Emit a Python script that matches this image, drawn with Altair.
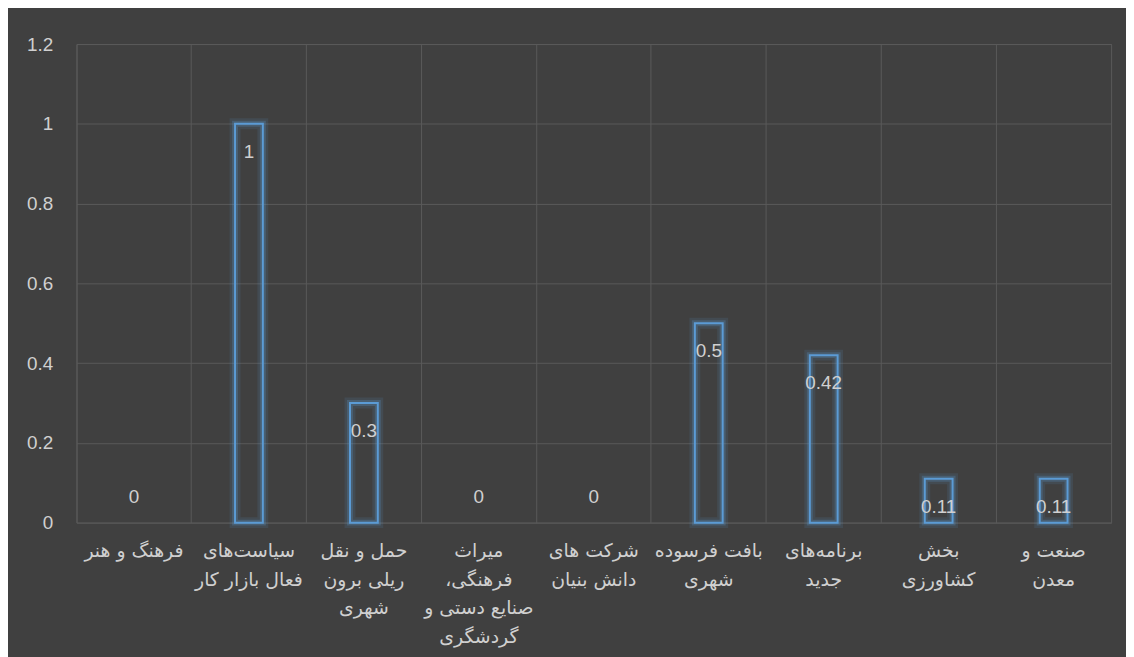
import altair as alt
import pandas as pd

categories = [
    "فرهنگ و هنر",
    "سیاست‌های|فعال بازار کار",
    "حمل و نقل|ریلی برون|شهری",
    "میراث|،فرهنگی|صنایع دستی و|گردشگری",
    "شرکت های|دانش بنیان",
    "بافت فرسوده|شهری",
    "برنامه‌های|جدید",
    "بخش|کشاورزی",
    "صنعت و|معدن",
]
values = [0, 1, 0.3, 0, 0, 0.5, 0.42, 0.11, 0.11]
y_ticks = [0, 0.2, 0.4, 0.6, 0.8, 1.0, 1.2]

df = pd.DataFrame({"cat": categories, "value": values})

BG = "#404040"
GRID = "#5a5a5a"
TXT = "#d0d0d0"
BLUE = "#5B9BD5"

x = alt.X(
    "cat:N",
    sort=categories,
    scale=alt.Scale(paddingInner=0, paddingOuter=0),
    axis=alt.Axis(
        title=None,
        labelAngle=0,
        labelExpr="split(datum.label, '|')",
        labelFont="DejaVu Sans",
        labelFontSize=19,
        labelLineHeight=29,
        labelColor=TXT,
        labelPadding=19,
        labelBaseline="top",
        ticks=False,
        domain=False,
        grid=True,
        bandPosition=0,
        gridColor=GRID,
        gridWidth=1,
    ),
)
y = alt.Y(
    "value:Q",
    scale=alt.Scale(domain=[0, 1.2], nice=False),
    axis=alt.Axis(
        title=None,
        values=y_ticks,
        labelExpr="toString(round(datum.value*10)/10)",
        labelFont="Liberation Sans",
        labelFontSize=19,
        labelColor=TXT,
        labelPadding=24,
        ticks=False,
        domain=False,
        grid=True,
        gridColor=GRID,
        gridWidth=1,
    ),
)

base = alt.Chart(df)
nonzero = base.transform_filter("datum.value > 0")

glow1 = nonzero.mark_bar(size=28, fillOpacity=0, stroke=BLUE, strokeWidth=11, strokeOpacity=0.12).encode(x=x, y=y)
glow2 = nonzero.mark_bar(size=28, fillOpacity=0, stroke=BLUE, strokeWidth=6, strokeOpacity=0.25).encode(x=x, y=y)
bars = nonzero.mark_bar(size=28, fillOpacity=0, stroke=BLUE, strokeWidth=2).encode(x=x, y=y)

lbl_nz = nonzero.mark_text(
    font="Liberation Sans", fontSize=19, color=TXT, baseline="middle", dy=28
).encode(x=x, y=y, text=alt.Text("value:Q"))
lbl_z = base.transform_filter("datum.value == 0").mark_text(
    font="Liberation Sans", fontSize=19, color=TXT, baseline="middle", dy=-26
).encode(x=x, y=y, text=alt.Text("value:Q"))

chart = (
    alt.layer(glow1, glow2, bars, lbl_nz, lbl_z)
    .properties(
        width=1042,
        height=482,
        background=BG,
        padding={"left": 69, "top": 34, "right": 15, "bottom": 133},
        autosize=alt.AutoSizeParams(type="none"),
    )
    .configure_view(stroke=GRID, strokeWidth=1)
)

chart.save("out.html", embed_options={"renderer": "svg", "actions": False})
